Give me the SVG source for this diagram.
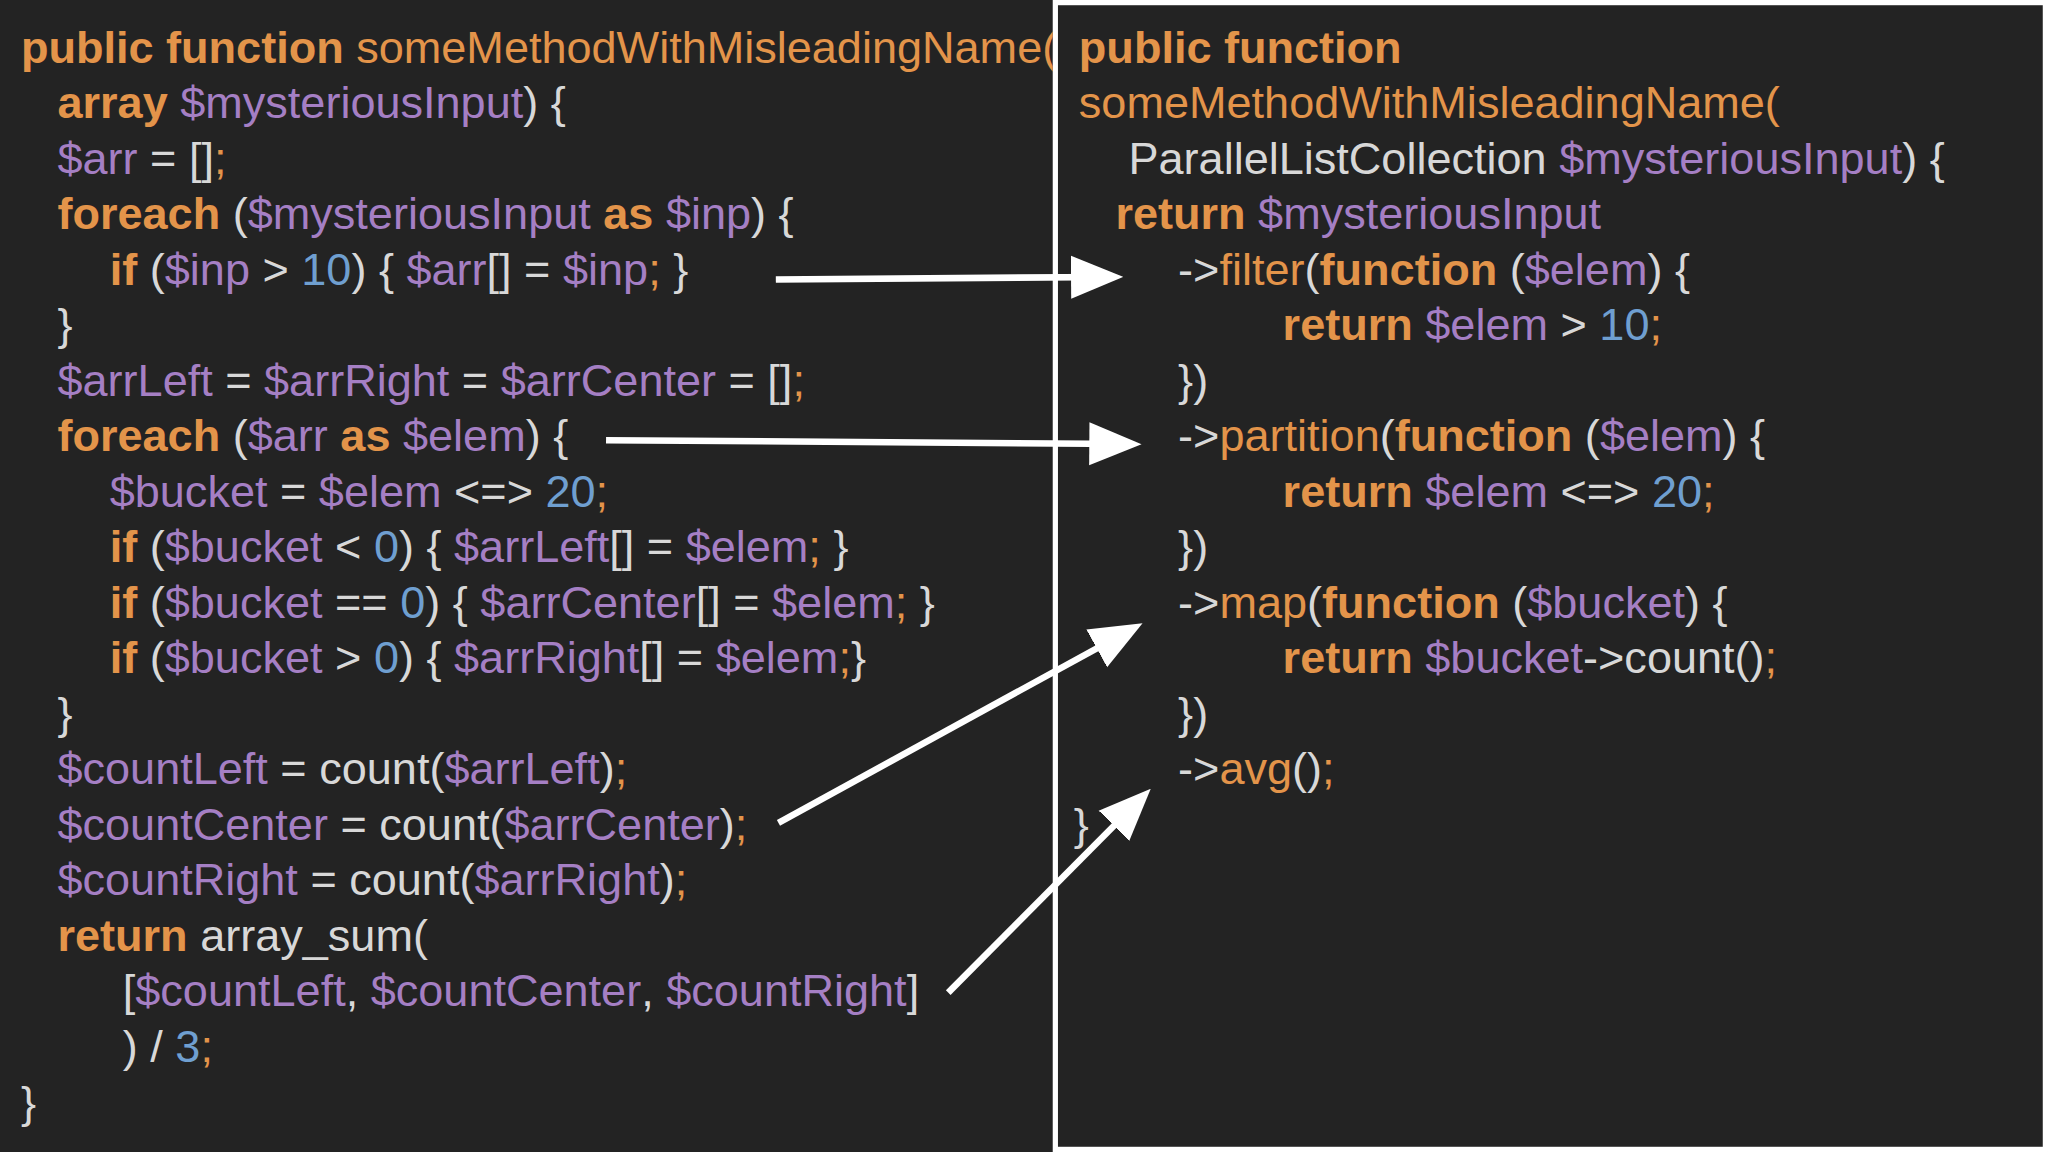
<svg xmlns="http://www.w3.org/2000/svg" width="2048" height="1152" viewBox="0 0 2048 1152">
<style>
text{font-family:"Liberation Sans",Arial,sans-serif;font-size:34.5px;fill:#d8d8d8;white-space:pre}
.k{fill:#e3944a;font-weight:bold}.o{fill:#e3944a}.v{fill:#a57fc4}.n{fill:#6f9fd0}
.a{stroke:#fff;stroke-width:5;fill:none}
</style>
<defs>
<marker id="ah" markerWidth="8" markerHeight="8" refX="6" refY="4" orient="auto" markerUnits="strokeWidth"><path d="M0,0.7 L8,4 L0,7.3 z" fill="#fff"/></marker>
<clipPath id="cl"><rect x="0" y="0" width="806" height="882"/></clipPath>
</defs>
<rect width="2048" height="1152" fill="#232323"/>
<g transform="scale(1.30612)">
<rect x="808" y="2" width="758" height="878" fill="none" stroke="#fff" stroke-width="4"/>
<g id="left" clip-path="url(#cl)">
<text x="16" y="48"><tspan class="k">public function</tspan><tspan class="o"> someMethodWithMisleadingName(</tspan></text>
<text x="44" y="90"><tspan class="k">array</tspan><tspan class="v"> $mysteriousInput</tspan>) {</text>
<text x="44" y="133"><tspan class="v">$arr</tspan> = []<tspan class="o">;</tspan></text>
<text x="44" y="175"><tspan class="k">foreach</tspan> (<tspan class="v">$mysteriousInput</tspan><tspan class="k"> as </tspan><tspan class="v">$inp</tspan>) {</text>
<text x="84" y="218"><tspan class="k">if</tspan> (<tspan class="v">$inp</tspan> &gt; <tspan class="n">10</tspan>) { <tspan class="v">$arr</tspan>[] = <tspan class="v">$inp</tspan><tspan class="o">;</tspan> }</text>
<text x="44" y="260">}</text>
<text x="44" y="303"><tspan class="v">$arrLeft</tspan> = <tspan class="v">$arrRight</tspan> = <tspan class="v">$arrCenter</tspan> = []<tspan class="o">;</tspan></text>
<text x="44" y="345"><tspan class="k">foreach</tspan> (<tspan class="v">$arr</tspan><tspan class="k"> as </tspan><tspan class="v">$elem</tspan>) {</text>
<text x="84" y="388"><tspan class="v">$bucket</tspan> = <tspan class="v">$elem</tspan> &lt;=&gt; <tspan class="n">20</tspan><tspan class="o">;</tspan></text>
<text x="84" y="430"><tspan class="k">if</tspan> (<tspan class="v">$bucket</tspan> &lt; <tspan class="n">0</tspan>) { <tspan class="v">$arrLeft</tspan>[] = <tspan class="v">$elem</tspan><tspan class="o">;</tspan> }</text>
<text x="84" y="473"><tspan class="k">if</tspan> (<tspan class="v">$bucket</tspan> == <tspan class="n">0</tspan>) { <tspan class="v">$arrCenter</tspan>[] = <tspan class="v">$elem</tspan><tspan class="o">;</tspan> }</text>
<text x="84" y="515"><tspan class="k">if</tspan> (<tspan class="v">$bucket</tspan> &gt; <tspan class="n">0</tspan>) { <tspan class="v">$arrRight</tspan>[] = <tspan class="v">$elem</tspan><tspan class="o">;</tspan>}</text>
<text x="44" y="558">}</text>
<text x="44" y="600"><tspan class="v">$countLeft</tspan> = count(<tspan class="v">$arrLeft</tspan>)<tspan class="o">;</tspan></text>
<text x="44" y="643"><tspan class="v">$countCenter</tspan> = count(<tspan class="v">$arrCenter</tspan>)<tspan class="o">;</tspan></text>
<text x="44" y="685"><tspan class="v">$countRight</tspan> = count(<tspan class="v">$arrRight</tspan>)<tspan class="o">;</tspan></text>
<text x="44" y="728"><tspan class="k">return</tspan> array_sum(</text>
<text x="94" y="770">[<tspan class="v">$countLeft</tspan>, <tspan class="v">$countCenter</tspan>, <tspan class="v">$countRight</tspan>]</text>
<text x="94" y="813">) / <tspan class="n">3</tspan><tspan class="o">;</tspan></text>
<text x="16" y="856">}</text>
</g>
<g id="right">
<text x="826" y="48"><tspan class="k">public function</tspan></text>
<text x="826" y="90"><tspan class="o">someMethodWithMisleadingName(</tspan></text>
<text x="864" y="133">ParallelListCollection <tspan class="v">$mysteriousInput</tspan>) {</text>
<text x="854" y="175"><tspan class="k">return</tspan><tspan class="v"> $mysteriousInput</tspan></text>
<text x="902" y="218">-&gt;<tspan class="o">filter</tspan>(<tspan class="k">function</tspan> (<tspan class="v">$elem</tspan>) {</text>
<text x="982" y="260"><tspan class="k">return</tspan><tspan class="v"> $elem</tspan> &gt; <tspan class="n">10</tspan><tspan class="o">;</tspan></text>
<text x="902" y="303">})</text>
<text x="902" y="345">-&gt;<tspan class="o">partition</tspan>(<tspan class="k">function</tspan> (<tspan class="v">$elem</tspan>) {</text>
<text x="982" y="388"><tspan class="k">return</tspan><tspan class="v"> $elem</tspan> &lt;=&gt; <tspan class="n">20</tspan><tspan class="o">;</tspan></text>
<text x="902" y="430">})</text>
<text x="902" y="473">-&gt;<tspan class="o">map</tspan>(<tspan class="k">function</tspan> (<tspan class="v">$bucket</tspan>) {</text>
<text x="982" y="515"><tspan class="k">return</tspan><tspan class="v"> $bucket</tspan>-&gt;count()<tspan class="o">;</tspan></text>
<text x="902" y="558">})</text>
<text x="902" y="600">-&gt;<tspan class="o">avg</tspan>()<tspan class="o">;</tspan></text>
<text x="822" y="643">}</text>
</g>
<g id="connectors">
<line class="a" x1="594" y1="214" x2="850" y2="212" marker-end="url(#ah)"/>
<line class="a" x1="464" y1="337" x2="864" y2="340" marker-end="url(#ah)"/>
<line class="a" x1="596" y1="630" x2="866" y2="482" marker-end="url(#ah)"/>
<line class="a" x1="726" y1="760" x2="874" y2="611" marker-end="url(#ah)"/>
</g>
</g>
</svg>
